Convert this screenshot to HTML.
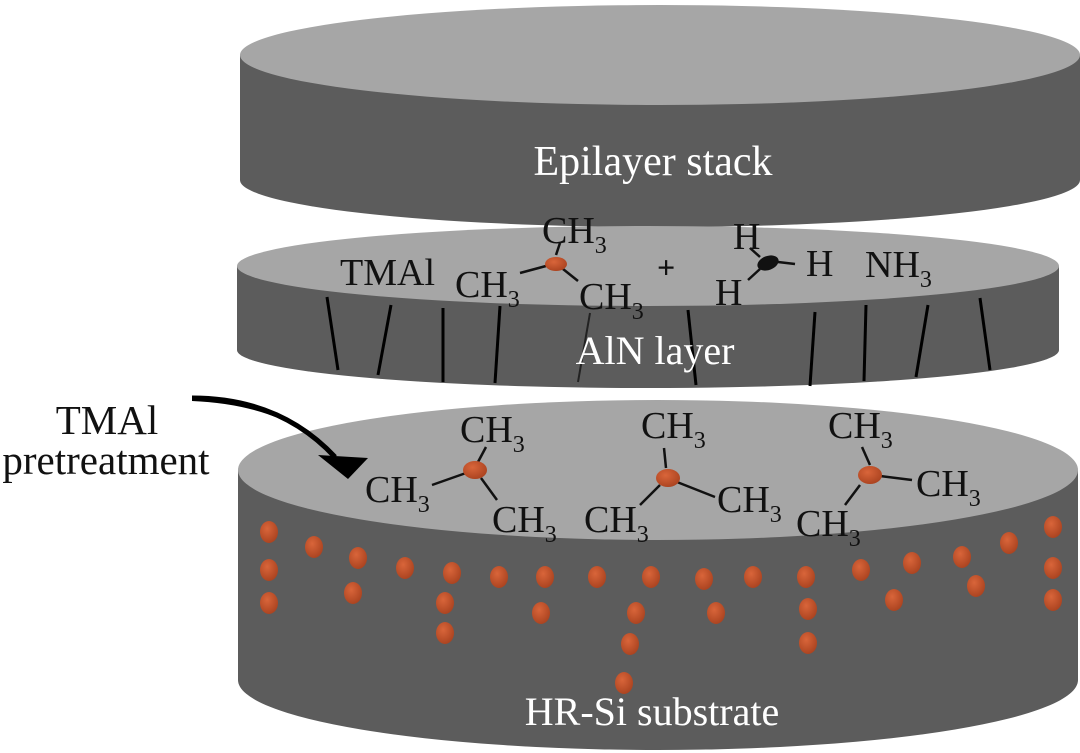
<!DOCTYPE html>
<html><head><meta charset="utf-8"><style>
html,body{margin:0;padding:0;background:#fff;}
svg{display:block;}
text{font-family:"Liberation Serif",serif;}
</style></head><body>
<svg width="1080" height="753" viewBox="0 0 1080 753" xmlns="http://www.w3.org/2000/svg">
<defs>
<radialGradient id="dot" cx="0.4" cy="0.35" r="0.7">
<stop offset="0" stop-color="#d9653a"/><stop offset="1" stop-color="#a9421f"/>
</radialGradient>
</defs>
<!-- top disk -->
<path d="M240,55 L240,180 A420,47 0 0 0 1080,180 L1080,55 Z" fill="#5c5c5c"/>
<ellipse cx="660" cy="55" rx="420" ry="50" fill="#a6a6a6"/>
<text x="653" y="175" font-size="42" fill="#fff" text-anchor="middle">Epilayer stack</text>
<!-- middle disk -->
<path d="M237,266 L237,350 A411,38 0 0 0 1059,350 L1059,266 Z" fill="#5c5c5c"/>
<ellipse cx="648" cy="266" rx="411" ry="40" fill="#a6a6a6"/>
<g stroke="#000" stroke-width="3">
<line x1="327" y1="297" x2="338" y2="370"/><line x1="391" y1="305" x2="378" y2="375"/>
<line x1="443" y1="308" x2="443" y2="382"/><line x1="500" y1="306" x2="495" y2="383"/>
<line x1="688" y1="310" x2="696" y2="385"/>
<line x1="815" y1="312" x2="810" y2="386"/><line x1="866" y1="305" x2="864" y2="381"/>
<line x1="928" y1="305" x2="916" y2="377"/><line x1="980" y1="298" x2="990" y2="370"/>
</g>
<line x1="590" y1="313" x2="578" y2="382" stroke="#222" stroke-width="2"/>
<text x="655" y="364" font-size="40" fill="#fff" text-anchor="middle">AlN layer</text>
<!-- bottom disk -->
<path d="M238,470 L238,680 A420,70 0 0 0 1078,680 L1078,470 Z" fill="#5c5c5c"/>
<ellipse cx="658" cy="470" rx="420" ry="70" fill="#a6a6a6"/>
<text x="652" y="725" font-size="40" fill="#fff" text-anchor="middle">HR-Si substrate</text>
<g fill="url(#dot)">
<ellipse cx="269" cy="532" rx="9" ry="11"/><ellipse cx="269" cy="570" rx="9" ry="11"/><ellipse cx="269" cy="603" rx="9" ry="11"/>
<ellipse cx="314" cy="547" rx="9" ry="11"/><ellipse cx="358" cy="558" rx="9" ry="11"/><ellipse cx="353" cy="593" rx="9" ry="11"/>
<ellipse cx="405" cy="568" rx="9" ry="11"/><ellipse cx="452" cy="573" rx="9" ry="11"/><ellipse cx="445" cy="603" rx="9" ry="11"/><ellipse cx="445" cy="633" rx="9" ry="11"/>
<ellipse cx="499" cy="577" rx="9" ry="11"/><ellipse cx="545" cy="577" rx="9" ry="11"/><ellipse cx="541" cy="613" rx="9" ry="11"/>
<ellipse cx="597" cy="577" rx="9" ry="11"/><ellipse cx="636" cy="613" rx="9" ry="11"/><ellipse cx="630" cy="644" rx="9" ry="11"/><ellipse cx="624" cy="683" rx="9" ry="11"/>
<ellipse cx="651" cy="577" rx="9" ry="11"/><ellipse cx="704" cy="579" rx="9" ry="11"/><ellipse cx="716" cy="613" rx="9" ry="11"/>
<ellipse cx="753" cy="577" rx="9" ry="11"/><ellipse cx="806" cy="577" rx="9" ry="11"/><ellipse cx="808" cy="609" rx="9" ry="11"/><ellipse cx="808" cy="643" rx="9" ry="11"/>
<ellipse cx="861" cy="570" rx="9" ry="11"/><ellipse cx="912" cy="563" rx="9" ry="11"/><ellipse cx="894" cy="600" rx="9" ry="11"/>
<ellipse cx="962" cy="557" rx="9" ry="11"/><ellipse cx="976" cy="586" rx="9" ry="11"/><ellipse cx="1009" cy="543" rx="9" ry="11"/>
<ellipse cx="1053" cy="527" rx="9" ry="11"/><ellipse cx="1053" cy="568" rx="9" ry="11"/><ellipse cx="1053" cy="600" rx="9" ry="11"/>
</g>
<!-- bonds -->
<g stroke="#111" stroke-width="2.5">
<line x1="556" y1="255" x2="560" y2="243"/><line x1="546" y1="266" x2="520" y2="273"/><line x1="563" y1="269" x2="578" y2="281"/>
<line x1="778" y1="262" x2="795" y2="264"/><line x1="760" y1="257" x2="750" y2="248"/><line x1="760" y1="269" x2="748" y2="280"/>
<line x1="478" y1="462" x2="486" y2="447"/><line x1="466" y1="473" x2="432" y2="485"/><line x1="481" y1="478" x2="497" y2="500"/>
<line x1="666" y1="468" x2="664" y2="448"/><line x1="677" y1="482" x2="715" y2="497"/><line x1="660" y1="485" x2="640" y2="505"/>
<line x1="870" y1="465" x2="862" y2="447"/><line x1="880" y1="476" x2="912" y2="480"/><line x1="860" y1="485" x2="845" y2="505"/>
</g>
<g fill="url(#dot)">
<ellipse cx="556" cy="264" rx="11" ry="7"/><ellipse cx="475" cy="470" rx="12" ry="9"/><ellipse cx="668" cy="478" rx="12" ry="9"/><ellipse cx="870" cy="475" rx="12" ry="9"/>
</g>
<ellipse cx="768" cy="263" rx="11" ry="7" fill="#111" transform="rotate(-20 768 263)"/>
<g font-size="38" fill="#111">
<text x="340" y="285">TMAl</text>
<text x="542" y="243">CH<tspan font-size="24" dy="10">3</tspan></text>
<text x="455" y="297">CH<tspan font-size="24" dy="10">3</tspan></text>
<text x="579" y="309">CH<tspan font-size="24" dy="10">3</tspan></text>
<text x="657" y="278" font-weight="bold" font-size="32">+</text>
<text x="733" y="249">H</text><text x="806" y="276">H</text><text x="715" y="305">H</text>
<text x="865" y="277">NH<tspan font-size="24" dy="10">3</tspan></text>
<text x="460" y="442">CH<tspan font-size="24" dy="10">3</tspan></text>
<text x="365" y="502">CH<tspan font-size="24" dy="10">3</tspan></text>
<text x="492" y="532">CH<tspan font-size="24" dy="10">3</tspan></text>
<text x="641" y="438">CH<tspan font-size="24" dy="10">3</tspan></text>
<text x="717" y="512">CH<tspan font-size="24" dy="10">3</tspan></text>
<text x="584" y="532">CH<tspan font-size="24" dy="10">3</tspan></text>
<text x="828" y="438">CH<tspan font-size="24" dy="10">3</tspan></text>
<text x="916" y="496">CH<tspan font-size="24" dy="10">3</tspan></text>
<text x="796" y="536">CH<tspan font-size="24" dy="10">3</tspan></text>
</g>
<!-- left label + arrow -->
<g font-size="41" fill="#111" text-anchor="middle">
<text x="107" y="434">TMAl</text>
<text x="106" y="474">pretreatment</text>
</g>
<path d="M192,398 Q280,398 335,457" fill="none" stroke="#000" stroke-width="5"/>
<path d="M192,396 Q285,400 330,450 L342,462 Q290,405 192,401 Z" fill="#000"/>
<polygon points="318,455 368,458 348,479" fill="#000"/>
<text x="30" y="745" font-size="18" fill="#fff" font-family="'Liberation Sans','Noto Sans CJK SC',sans-serif" opacity="0.85">◎ 大数跨境</text>
</svg>
</body></html>
